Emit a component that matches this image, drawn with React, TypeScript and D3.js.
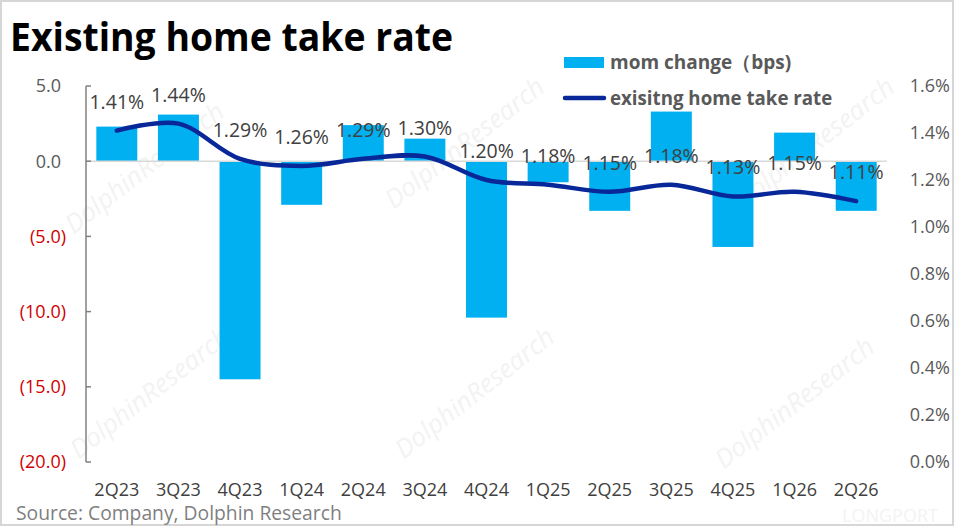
import * as d3 from "d3"

const categories = ["2Q23", "3Q23", "4Q23", "1Q24", "2Q24", "3Q24", "4Q24", "1Q25", "2Q25", "3Q25", "4Q25", "1Q26", "2Q26"]
// mom change (bps)
const momChange = [2.3, 3.1, -14.5, -2.9, 2.4, 1.5, -10.4, -1.4, -3.3, 3.3, -5.7, 1.9, -3.3]
// existing home take rate (%)
const takeRate = [1.41, 1.44, 1.29, 1.26, 1.29, 1.3, 1.2, 1.18, 1.15, 1.18, 1.13, 1.15, 1.11]
const leftTicks = [5, 0, -5, -10, -15, -20]
const rightTicks = [1.6, 1.4, 1.2, 1.0, 0.8, 0.6, 0.4, 0.2, 0.0]

const W = 954
const H = 526
const font = "'Open Sans', 'Noto Sans', sans-serif"

const watermarks = [
  [150, 175], [470, 150], [820, 150], [155, 400], [480, 400], [800, 410],
]

export default function App() {
  const x = d3.scaleBand<string>().domain(categories).range([86, 887]).paddingInner(0.335).paddingOuter(0.1675)
  const yL = d3.scaleLinear().domain([-20, 5]).range([462, 86])
  const yR = d3.scaleLinear().domain([0, 1.6]).range([462, 86])
  const cx = (c: string) => (x(c) || 0) + x.bandwidth() / 2

  const line = d3
    .line<number>()
    .x((_, i) => cx(categories[i]))
    .y((d) => yR(d))
    .curve(d3.curveCatmullRom.alpha(0.5))

  const fmtL = (v: number) => (v < 0 ? `(${Math.abs(v).toFixed(1)})` : v.toFixed(1))

  return (
    <svg width={W} height={H} style={{ position: "absolute", left: 0, top: 0, background: "#fff" }} fontFamily={font}>
      <rect x={1} y={1} width={W - 2} height={H - 2} fill="#fff" stroke="#d6d6d6" strokeWidth={2} />

      {/* watermarks */}
      {watermarks.map(([wx, wy], i) => (
        <text key={i} transform={`translate(${wx},${wy}) rotate(-38)`} textAnchor="middle" fontSize={26} fill="#f3f3f3" fontStyle="italic">
          DolphinResearch
        </text>
      ))}
      <text x={890} y={522} textAnchor="middle" fontSize={18} fill="#f3f3f3">LONGPORT</text>

      {/* title */}
      <text x={10} y={51} fontSize={39} fontWeight="bold" fill="#000" textLength={443} lengthAdjust="spacingAndGlyphs">
        Existing home take rate
      </text>

      {/* bars */}
      {momChange.map((v, i) => (
        <rect
          key={categories[i]}
          x={x(categories[i])}
          y={yL(Math.max(0, v))}
          width={x.bandwidth()}
          height={Math.abs(yL(v) - yL(0))}
          fill="#00b0f0"
        />
      ))}

      {/* category axis at zero */}
      <line x1={86} x2={887} y1={yL(0)} y2={yL(0)} stroke="#d9d9d9" strokeWidth={1.5} />

      {/* left axis */}
      <line x1={86} x2={86} y1={yL(5)} y2={yL(-20)} stroke="#808080" strokeWidth={1.5} />
      {leftTicks.map((t) => (
        <g key={t}>
          <line x1={86} x2={91} y1={yL(t)} y2={yL(t)} stroke="#808080" strokeWidth={1.5} />
          <text
            x={t < 0 ? 66 : 61}
            y={yL(t)}
            dy="0.35em"
            textAnchor="end"
            fontSize={18}
            fill={t < 0 ? "#d00000" : "#595959"}
          >
            {fmtL(t)}
          </text>
        </g>
      ))}

      {/* right axis labels */}
      {rightTicks.map((t) => (
        <text key={t} x={950} y={yR(t)} dy="0.35em" textAnchor="end" fontSize={18} fill="#595959">
          {`${t.toFixed(1)}%`}
        </text>
      ))}

      {/* line */}
      <path d={line(takeRate) || ""} fill="none" stroke="#082798" strokeWidth={4.5} strokeLinecap="round" />

      {/* data labels */}
      {takeRate.map((v, i) => (
        <text key={categories[i]} x={cx(categories[i])} y={yR(v) - 22} textAnchor="middle" fontSize={19.5} fill="#404040">
          {`${v.toFixed(2)}%`}
        </text>
      ))}

      {/* x labels */}
      {categories.map((c) => (
        <text key={c} x={cx(c)} y={496} textAnchor="middle" fontSize={18} fill="#404040">
          {c}
        </text>
      ))}

      {/* legend */}
      <rect x={564} y={57} width={40} height={11} fill="#00b0f0" />
      <text x={610} y={69} fontSize={19} fontWeight="bold" fill="#595959">mom change（bps)</text>
      <line x1={565} x2={604} y1={98} y2={98} stroke="#082798" strokeWidth={4.5} strokeLinecap="round" />
      <text x={610} y={105} fontSize={18.7} fontWeight="bold" fill="#595959">exisitng home take rate</text>

      {/* source */}
      <text x={16} y={520} fontSize={19.3} fill="#7f7f7f">Source: Company, Dolphin Research</text>
    </svg>
  )
}
